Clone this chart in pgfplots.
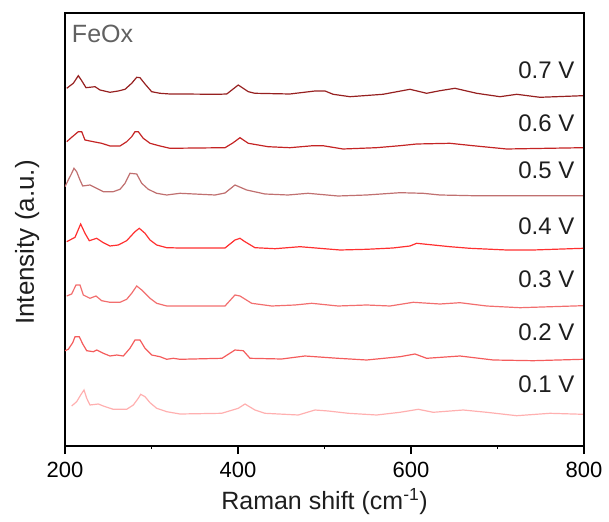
\documentclass[border=0pt]{standalone}
\usepackage{pgfplots}
\pgfplotsset{compat=1.18}
\usepackage{fontspec}
\setmainfont{Liberation Sans}
\setsansfont{Liberation Sans}
\definecolor{cA}{RGB}{150,32,32}
\definecolor{cB}{RGB}{196,36,36}
\definecolor{cC}{RGB}{192,112,112}
\definecolor{cD}{RGB}{255,48,48}
\definecolor{cE}{RGB}{242,110,110}
\definecolor{cF}{RGB}{244,92,92}
\definecolor{cG}{RGB}{255,176,176}
\definecolor{txt}{RGB}{30,30,30}
\begin{document}
\begin{tikzpicture}
\begin{axis}[
  name=ax,
  scale only axis,
  width=519pt, height=433pt,
  xmin=200, xmax=800, ymin=0, ymax=433,
  xtick={200,400,600,800},
  minor xtick={300,500,700},
  ytick=\empty,
  xtick pos=bottom,
  tick align=outside,
  major tick length=8pt,
  minor tick length=3pt,
  every tick/.style={black, line width=1.4pt},
  axis line style={line width=1.6pt},
  /pgf/number format/assume math mode=true,
  xticklabel style={font=\fontsize{22}{26}\selectfont, yshift=-5pt, text=black},
  xlabel={Raman shift (cm\textsuperscript{-1})},
  ylabel={Intensity (a.u.)},
  xlabel style={font=\fontsize{25}{30}\selectfont, at={(axis description cs:0.5,-0.128)}, anchor=center, text=txt},
  ylabel style={font=\fontsize{26}{30}\selectfont, at={(axis description cs:-0.073,0.47)}, anchor=center, text=txt},
  clip=true,
]
% 0.7 V
\addplot[cA, line width=1.2pt] coordinates {
(202,357.7)(209.6,362.7)(215.4,370.3)(219.3,365.3)(224.3,358.3)(234.7,359.3)(240.5,356)(252,353.7)(261.6,355)(269.4,356.7)(277.1,362.7)(282.9,368.7)(286.7,368.3)(292.5,362)(300.2,354.3)(309.8,352.7)(321.4,352)(333,352)(376.9,351.7)(387,352)(400.3,361)(411.9,354.3)(419.6,352.7)(460,352)(489,355)(500.6,355)(510,351.7)(529.5,349.3)(567.6,351.7)(598.8,356.7)(618.1,352.7)(633.5,355.3)(650.8,357.7)(675.9,352.7)(702.9,349.3)(722.2,351.7)(749.1,348.7)(798.8,350.3)};
% 0.6 V
\addplot[cB, line width=1.2pt] coordinates {
(202,304.3)(207.7,308.7)(215.4,314.3)(219.3,314.3)(223.1,306)(232.7,304.3)(242.4,302.7)(252,300)(263.6,300)(271.3,304.3)(277.1,309.3)(280.9,314.3)(284.7,314.3)(290.5,307.7)(298.3,302.7)(309.8,300)(321.4,297.7)(385,298.3)(394,303)(402.3,308.3)(411.9,302.7)(434.7,299.3)(460,298.3)(486.7,300.3)(498.2,300.3)(521.4,297)(560,298.3)(587.3,300.3)(606.6,302)(645,302.7)(671.6,300.3)(710.6,297)(798.8,298.3)};
% 0.5 V
\addplot[cC, line width=1.2pt] coordinates {
(200,259.3)(203.8,266)(207.7,272.7)(210.4,277.7)(213.5,274.3)(217.3,266)(220.5,260)(228.9,261)(236.6,257.7)(244.3,254.3)(255.8,254.3)(263.6,256.7)(269.4,262.7)(275.1,272.7)(282.9,272)(288.7,262.7)(296.3,256.7)(306,252.7)(317.6,251)(333,252.7)(373.4,251)(385,253)(396.5,261)(410,256)(431.2,252)(457.8,251)(480.9,252.7)(515.6,250)(548.7,251)(587.3,253.3)(613.8,252.7)(633.5,251)(671.6,250.3)(798.8,250.3)};
% 0.4 V
\addplot[cD, line width=1.2pt] coordinates {
(202,204.3)(211.6,208.7)(218.1,222)(223.1,212.7)(228.1,205.3)(236.6,207.7)(244.3,203.3)(252,200)(261.6,201)(271.3,205.3)(280.9,214.3)(285.9,217.7)(292.5,212.7)(298.3,206)(306,201)(317.6,198.3)(333,198)(385,198)(396.5,206)(402.3,207.7)(408,204.3)(419.6,198.3)(442.8,197.3)(471.7,199.3)(518,196)(548.7,196.7)(579,198)(598.8,200)(606.5,202.7)(645,199.3)(668,197.7)(710.6,196)(741,196)(799,197.7)};
% 0.3 V
\addplot[cE, line width=1.2pt] coordinates {
(202,150)(207.7,152)(212.7,161)(217.3,161)(221.2,151)(228.9,147.7)(235.8,150)(242.4,145.3)(252,143.7)(263.6,143.7)(271.3,146.7)(277.1,152.7)(282.9,160)(288.7,156)(298.3,147.7)(306,142.7)(317.6,140)(333,140)(385,140)(396.5,151)(402.3,150)(415.8,142.7)(439,140)(465.9,141)(485.2,142.7)(515.6,140)(548.7,141)(575.7,140)(602.6,143.7)(633.5,142)(656.6,143.3)(687.5,140)(726,138.3)(798.8,140.3)};
% 0.2 V
\addplot[cF, line width=1.2pt] coordinates {
(200,95.3)(203.8,96.7)(208.9,103.3)(211.6,109.3)(216.5,109.3)(220.5,102)(225.1,95.3)(232.7,94.3)(236.6,96)(244.3,92.7)(252,90)(259.8,91)(267.4,90)(275.1,97.7)(280.9,106)(286.7,106)(292.5,97.7)(300.2,91)(309.8,89.3)(317.6,86.7)(325.2,87.7)(333,86.7)(381.5,87.7)(396.5,96)(406.1,95.3)(413.9,87.7)(450.5,87)(477.4,90)(515.6,87.7)(548.7,86)(587.3,89.3)(604.6,92)(618.1,87.7)(656.6,90)(695.1,86)(741.3,85.3)(798.8,86.7)};
% 0.1 V
\addplot[cG, line width=1.2pt] coordinates {
(207.7,40)(213.5,44.3)(218.1,51)(222,56)(225.1,47.7)(228.9,41)(238.5,42)(244.3,40)(255.8,36.7)(271.3,36.7)(279,41)(284.7,47.7)(287.5,51.7)(292.5,49.3)(298.3,43.3)(306,37.7)(317.6,34.3)(333,32)(381.1,32.7)(400.3,37.7)(408.1,42)(419.6,36)(431.2,32.7)(469.7,31)(489,36)(504.4,35)(527.5,32.7)(560.3,31)(587.3,33.7)(608.4,36.7)(625.7,33.7)(660.4,36)(687.5,33.7)(722.2,30.3)(760.7,32.7)(798.8,31.7)};
\node[anchor=west, text=black!62, font=\fontsize{25}{30}\selectfont] at (axis cs:204,412) {FeOx};
\node[anchor=east, text=txt, font=\fontsize{24}{28}\selectfont] at (axis cs:793,376) {0.7 V};
\node[anchor=east, text=txt, font=\fontsize{24}{28}\selectfont] at (axis cs:793,323) {0.6 V};
\node[anchor=east, text=txt, font=\fontsize{24}{28}\selectfont] at (axis cs:793,276) {0.5 V};
\node[anchor=east, text=txt, font=\fontsize{24}{28}\selectfont] at (axis cs:793,220) {0.4 V};
\node[anchor=east, text=txt, font=\fontsize{24}{28}\selectfont] at (axis cs:793,167) {0.3 V};
\node[anchor=east, text=txt, font=\fontsize{24}{28}\selectfont] at (axis cs:793,114) {0.2 V};
\node[anchor=east, text=txt, font=\fontsize{24}{28}\selectfont] at (axis cs:793,62) {0.1 V};
\end{axis}
\pgfresetboundingbox
\path ([xshift=-65pt,yshift=-75pt]ax.south west) rectangle ([xshift=25pt,yshift=13pt]ax.north east);
\end{tikzpicture}
\end{document}
